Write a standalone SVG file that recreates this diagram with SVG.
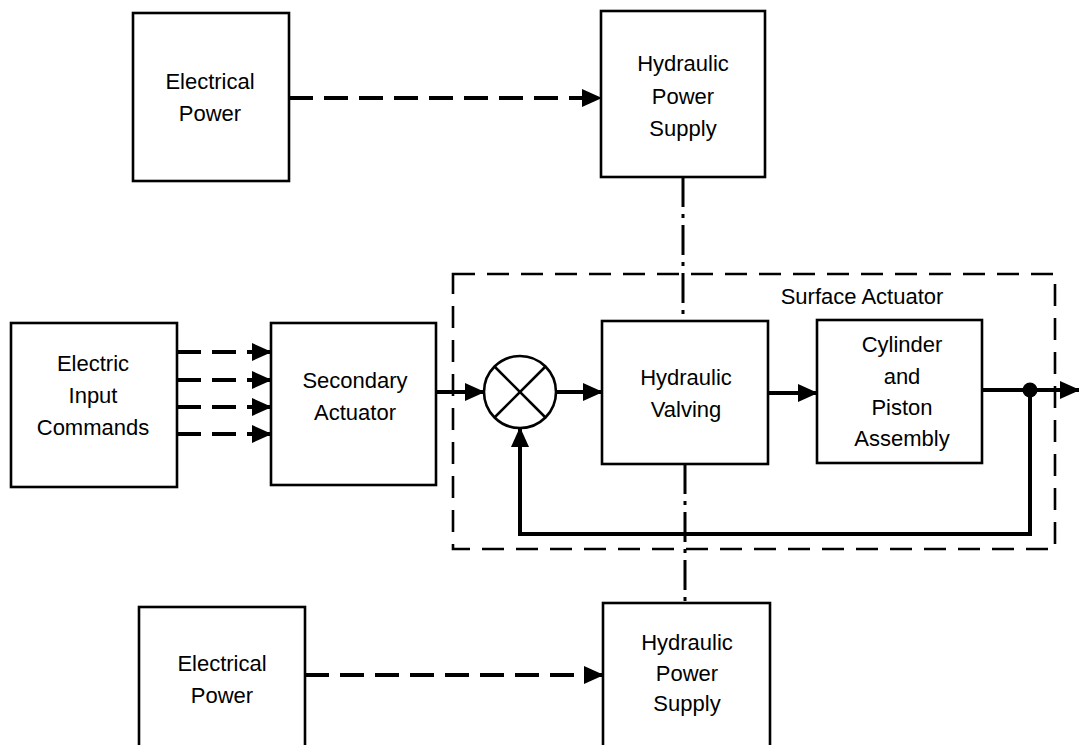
<svg xmlns="http://www.w3.org/2000/svg" width="1079" height="745" viewBox="0 0 1079 745">
<style>
.box{fill:none;stroke:#000;stroke-width:2.6}
.t{font-family:"Liberation Sans",Arial,sans-serif;font-size:22px;fill:#000;text-anchor:middle}
.sol{fill:none;stroke:#000;stroke-width:4}
.dsh{fill:none;stroke:#000;stroke-width:4;stroke-dasharray:24 11}
.vd{fill:none;stroke:#000;stroke-width:3;stroke-dasharray:30 7 4 7}
.enc{fill:none;stroke:#000;stroke-width:2.6;stroke-dasharray:22 12}
</style>
<defs>
<marker id="ah" markerUnits="userSpaceOnUse" markerWidth="20" markerHeight="18" refX="19" refY="9" orient="auto">
<path d="M0,0 L20,9 L0,18 Z" fill="#000"/>
</marker>
</defs>
<rect width="1079" height="745" fill="#fff"/>
<g id="surface-actuator">
<rect x="453" y="274" width="602" height="275" class="enc"/>
<text class="t" x="862" y="304">Surface Actuator</text>
</g>
<g id="elec-power-top">
<rect x="133" y="13" width="156" height="168" class="box"/>
<text class="t" x="210" y="89">Electrical</text>
<text class="t" x="210" y="121">Power</text>
</g>
<g id="hyd-supply-top">
<rect x="601" y="11" width="164" height="166" class="box"/>
<text class="t" x="683" y="71">Hydraulic</text>
<text class="t" x="683" y="104">Power</text>
<text class="t" x="683" y="136">Supply</text>
</g>
<g id="electric-input">
<rect x="11" y="323" width="166" height="164" class="box"/>
<text class="t" x="93" y="371">Electric</text>
<text class="t" x="93" y="403">Input</text>
<text class="t" x="93" y="435">Commands</text>
</g>
<g id="secondary-actuator">
<rect x="271" y="323" width="165" height="162" class="box"/>
<text class="t" x="355" y="388">Secondary</text>
<text class="t" x="355" y="420">Actuator</text>
</g>
<g id="summing-junction">
<circle cx="520" cy="392" r="36" fill="none" stroke="#000" stroke-width="2.6"/>
<line x1="494.5" y1="366.5" x2="545.5" y2="417.5" stroke="#000" stroke-width="2.6"/>
<line x1="545.5" y1="366.5" x2="494.5" y2="417.5" stroke="#000" stroke-width="2.6"/>
</g>
<g id="hyd-valving">
<rect x="602" y="321" width="166" height="143" class="box"/>
<text class="t" x="686" y="385">Hydraulic</text>
<text class="t" x="686" y="417">Valving</text>
</g>
<g id="cylinder">
<rect x="817" y="320" width="165" height="143" class="box"/>
<text class="t" x="902" y="352">Cylinder</text>
<text class="t" x="902" y="384">and</text>
<text class="t" x="902" y="415">Piston</text>
<text class="t" x="902" y="446">Assembly</text>
</g>
<g id="elec-power-bottom">
<rect x="139" y="607" width="166" height="150" class="box"/>
<text class="t" x="222" y="671">Electrical</text>
<text class="t" x="222" y="703">Power</text>
</g>
<g id="hyd-supply-bottom">
<rect x="603" y="603" width="167" height="160" class="box"/>
<text class="t" x="687" y="650">Hydraulic</text>
<text class="t" x="687" y="681">Power</text>
<text class="t" x="687" y="711">Supply</text>
</g>
<g id="connectors">
<line x1="289" y1="98" x2="601" y2="98" class="dsh" marker-end="url(#ah)"/>
<line x1="305" y1="675" x2="603" y2="675" class="dsh" marker-end="url(#ah)"/>
<line x1="683" y1="177" x2="683" y2="321" class="vd"/>
<line x1="685" y1="464" x2="685" y2="603" class="vd"/>
<line x1="177" y1="352" x2="271" y2="352" class="dsh" marker-end="url(#ah)"/>
<line x1="177" y1="380" x2="271" y2="380" class="dsh" marker-end="url(#ah)"/>
<line x1="177" y1="407" x2="271" y2="407" class="dsh" marker-end="url(#ah)"/>
<line x1="177" y1="434" x2="271" y2="434" class="dsh" marker-end="url(#ah)"/>
<line x1="436" y1="392" x2="484" y2="392" class="sol" marker-end="url(#ah)"/>
<line x1="556" y1="392" x2="602" y2="392" class="sol" marker-end="url(#ah)"/>
<line x1="768" y1="393" x2="817" y2="393" class="sol" marker-end="url(#ah)"/>
<line x1="982" y1="390" x2="1079" y2="390" class="sol" marker-end="url(#ah)"/>
<circle cx="1030" cy="390" r="7.5" fill="#000"/>
<polyline points="1030,390 1030,534 520,534 520,428" class="sol" marker-end="url(#ah)"/>
</g>
</svg>
